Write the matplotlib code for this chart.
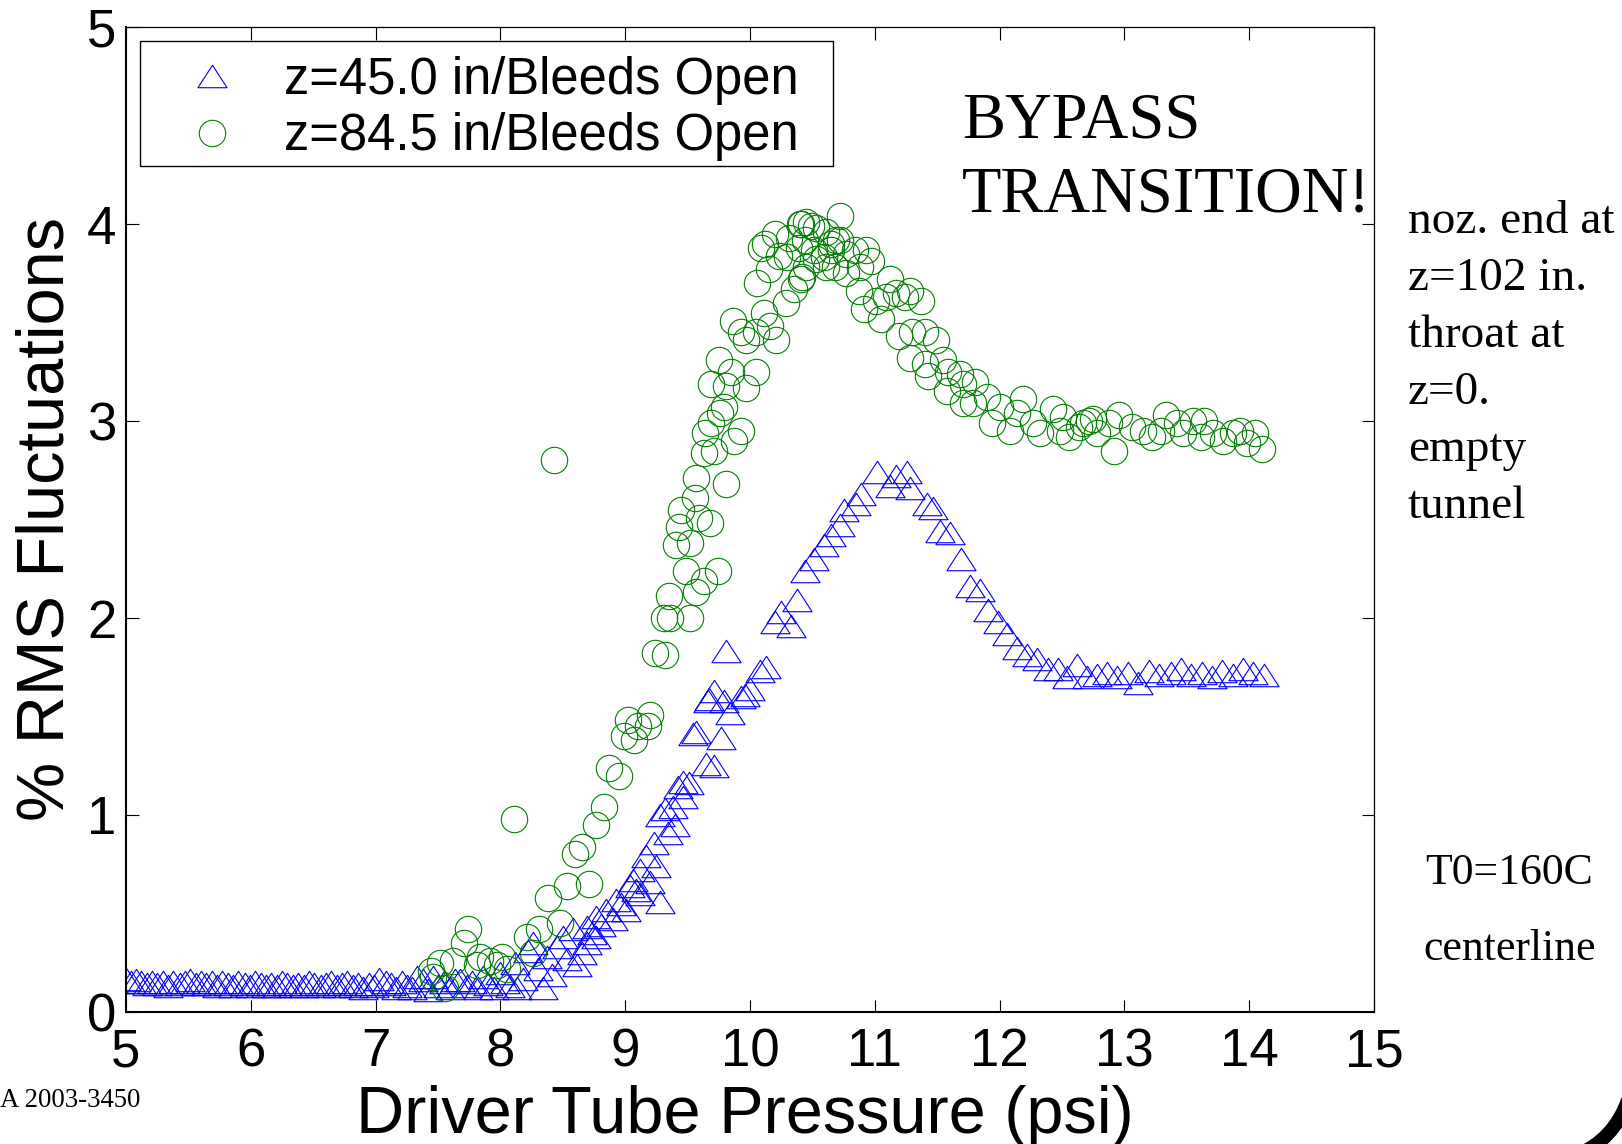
import matplotlib.pyplot as plt
from matplotlib.path import Path
from matplotlib.patches import PathPatch, Rectangle

# z = 45.0 in, bleeds open
blue_x = [5.00, 5.04, 5.08, 5.12, 5.17, 5.21, 5.25, 5.30, 5.34, 5.38, 5.43, 5.47,
          5.51, 5.56, 5.60, 5.64, 5.69, 5.73, 5.77, 5.82, 5.86, 5.90, 5.95, 5.99,
          6.03, 6.08, 6.12, 6.16, 6.21, 6.25, 6.29, 6.34, 6.38, 6.43, 6.47, 6.51,
          6.56, 6.60, 6.64, 6.69, 6.73, 6.77, 6.82, 6.86, 6.90, 6.95, 6.99, 7.03,
          7.08, 7.12, 7.16, 7.21, 7.25, 7.29, 7.33, 7.38, 7.42, 7.46, 7.50, 7.55,
          7.60, 7.64, 7.68, 7.73, 7.77, 7.82, 7.86, 7.90, 7.95, 8.00, 8.04, 8.08,
          8.12, 8.13, 8.18, 8.22, 8.26, 8.30, 8.34, 8.37, 8.41, 8.45, 8.50, 8.53,
          8.58, 8.61, 8.65, 8.69, 8.69, 8.73, 8.77, 8.77, 8.81, 8.85, 8.90, 8.93,
          8.97, 9.01, 9.04, 9.06, 9.09, 9.12, 9.12, 9.17, 9.20, 9.23, 9.25, 9.28,
          9.28, 9.32, 9.34, 9.38, 9.40, 9.42, 9.46, 9.46, 9.51, 9.54, 9.57, 9.65,
          9.66, 9.67, 9.71, 9.71, 9.77, 9.79, 9.81, 9.84, 9.93, 9.96, 10.00, 10.08,
          10.13, 10.20, 10.25, 10.33, 10.38, 10.44, 10.51, 10.59, 10.65, 10.72, 10.75, 10.85,
          10.89, 11.02, 11.12, 11.17, 11.26, 11.28, 11.42, 11.47, 11.52, 11.60, 11.69, 11.76,
          11.84, 11.91, 11.99, 12.06, 12.14, 12.22, 12.30, 12.39, 12.47, 12.54, 12.62, 12.70,
          12.78, 12.86, 12.94, 13.03, 13.11, 13.20, 13.28, 13.37, 13.45, 13.53, 13.62, 13.70,
          13.78, 13.87, 13.95, 14.03, 14.12]
blue_y = [0.17, 0.15, 0.16, 0.15, 0.14, 0.15, 0.14, 0.15, 0.13, 0.15, 0.14, 0.15,
          0.16, 0.14, 0.15, 0.14, 0.15, 0.13, 0.15, 0.14, 0.13, 0.15, 0.14, 0.13,
          0.15, 0.14, 0.13, 0.14, 0.13, 0.15, 0.14, 0.13, 0.14, 0.13, 0.15, 0.14,
          0.13, 0.14, 0.15, 0.13, 0.14, 0.15, 0.13, 0.14, 0.12, 0.14, 0.13, 0.17,
          0.15, 0.14, 0.12, 0.15, 0.13, 0.12, 0.18, 0.16, 0.11, 0.18, 0.13, 0.15,
          0.12, 0.16, 0.16, 0.13, 0.15, 0.12, 0.18, 0.14, 0.12, 0.20, 0.15, 0.13,
          0.25, 0.12, 0.17, 0.31, 0.35, 0.22, 0.12, 0.28, 0.19, 0.33, 0.38, 0.27,
          0.42, 0.24, 0.30, 0.43, 0.35, 0.40, 0.48, 0.38, 0.44, 0.52, 0.47, 0.57,
          0.55, 0.52, 0.64, 0.67, 0.62, 0.72, 0.60, 0.79, 0.66, 0.86, 0.74, 0.56,
          1.00, 1.03, 0.91, 1.04, 0.95, 1.14, 1.17, 1.09, 1.16, 1.41, 1.42, 1.26,
          1.58, 1.59, 1.25, 1.63, 1.39, 1.58, 1.83, 1.52, 1.60, 1.61, 1.64, 1.73,
          1.75, 1.98, 2.03, 1.96, 2.09, 2.24, 2.30, 2.37, 2.42, 2.47, 2.55, 2.58,
          2.63, 2.74, 2.67, 2.72, 2.74, 2.66, 2.58, 2.56, 2.44, 2.43, 2.30, 2.16,
          2.14, 2.04, 1.98, 1.92, 1.85, 1.81, 1.79, 1.74, 1.74, 1.70, 1.76, 1.70,
          1.71, 1.72, 1.70, 1.72, 1.67, 1.73, 1.71, 1.72, 1.74, 1.71, 1.72, 1.70,
          1.73, 1.71, 1.74, 1.72, 1.71]

# z = 84.5 in, bleeds open
green_x = [7.44, 7.46, 7.52, 7.56, 7.62, 7.71, 7.74, 7.81, 7.84, 7.92, 7.97, 8.01,
           8.05, 8.11, 8.21, 8.26, 8.31, 8.38, 8.43, 8.48, 8.53, 8.60, 8.65, 8.71,
           8.77, 8.83, 8.87, 8.95, 8.99, 9.02, 9.07, 9.10, 9.18, 9.20, 9.24, 9.31,
           9.32, 9.35, 9.36, 9.41, 9.43, 9.45, 9.49, 9.52, 9.52, 9.56, 9.57, 9.57,
           9.59, 9.63, 9.63, 9.64, 9.68, 9.69, 9.69, 9.71, 9.74, 9.75, 9.76, 9.79,
           9.81, 9.81, 9.85, 9.86, 9.87, 9.93, 9.93, 9.97, 9.97, 10.05, 10.05, 10.06,
           10.09, 10.11, 10.12, 10.15, 10.16, 10.20, 10.21, 10.23, 10.29, 10.30, 10.31, 10.35,
           10.39, 10.40, 10.41, 10.41, 10.42, 10.44, 10.45, 10.45, 10.49, 10.51, 10.53, 10.53,
           10.59, 10.61, 10.61, 10.65, 10.65, 10.68, 10.69, 10.72, 10.72, 10.77, 10.77, 10.84,
           10.87, 10.88, 10.91, 10.93, 10.97, 11.01, 11.05, 11.09, 11.12, 11.17, 11.19, 11.24,
           11.28, 11.28, 11.30, 11.37, 11.40, 11.40, 11.43, 11.49, 11.55, 11.58, 11.59, 11.68,
           11.71, 11.71, 11.79, 11.80, 11.90, 11.94, 12.00, 12.08, 12.14, 12.19, 12.27, 12.32,
           12.43, 12.48, 12.51, 12.56, 12.64, 12.67, 12.72, 12.75, 12.78, 12.88, 12.92, 12.96,
           13.06, 13.15, 13.22, 13.29, 13.33, 13.42, 13.47, 13.55, 13.61, 13.64, 13.71, 13.79,
           13.87, 13.93, 13.98, 14.05, 14.10]
green_y = [0.21, 0.18, 0.25, 0.12, 0.26, 0.35, 0.42, 0.24, 0.28, 0.26, 0.24, 0.28,
           0.22, 0.98, 0.38, 0.30, 0.42, 0.58, 2.80, 0.45, 0.64, 0.80, 0.84, 0.65,
           0.95, 1.04, 1.24, 1.20, 1.40, 1.48, 1.38, 1.45, 1.45, 1.51, 1.82, 2.00,
           1.81, 2.11, 2.00, 2.37, 2.46, 2.55, 2.24, 2.00, 2.38, 2.61, 2.13, 2.71,
           2.51, 2.19, 2.84, 2.94, 2.48, 2.99, 3.19, 2.85, 2.24, 3.31, 3.04, 3.07,
           2.68, 3.18, 3.25, 3.51, 2.90, 2.95, 3.45, 3.17, 3.41, 3.25, 3.45, 3.70,
           3.88, 3.55, 3.90, 3.77, 3.48, 3.95, 3.41, 3.84, 3.60, 3.83, 3.93, 3.67,
           3.88, 4.00, 3.72, 4.00, 3.73, 3.92, 4.01, 3.78, 3.99, 3.87, 3.98, 3.82,
           3.83, 3.96, 3.78, 3.90, 3.87, 3.78, 3.92, 4.04, 3.92, 3.85, 3.75, 3.87,
           3.66, 3.78, 3.57, 3.87, 3.81, 3.61, 3.52, 3.63, 3.72, 3.65, 3.43, 3.63,
           3.66, 3.32, 3.45, 3.61, 3.45, 3.29, 3.23, 3.41, 3.31, 3.15, 3.25, 3.24,
           3.19, 3.09, 3.09, 3.20, 3.12, 2.99, 3.07, 2.95, 3.04, 3.11, 2.99, 2.94,
           3.06, 2.95, 3.02, 2.92, 2.97, 2.99, 3.00, 3.01, 2.94, 2.99, 2.85, 3.03,
           2.97, 2.95, 2.92, 2.95, 3.03, 2.99, 2.94, 3.00, 2.92, 3.00, 2.94, 2.90,
           2.94, 2.95, 2.89, 2.94, 2.86]

right_notes = ['noz. end at', 'z=102 in.', 'throat at', 'z=0.', 'empty', 'tunnel']

W, H = 1622, 1144
SANS = 'Liberation Sans'
SERIF = 'Liberation Serif'

fig = plt.figure(figsize=(W / 100, H / 100), dpi=100)
ax = fig.add_axes([126 / W, 1 - 1012 / H, 1248 / W, 985 / H])

# MATLAB-style flattened triangle
tri = Path([(-1, -0.77), (1, -0.77), (0, 0.77), (-1, -0.77)], closed=True)

ax.plot(blue_x, blue_y, ls='none', marker=tri, ms=21, mfc='none', mec='#0000ff',
        mew=0.8, label='z=45.0 in/Bleeds Open')
ax.plot(green_x, green_y, ls='none', marker='o', ms=19, mfc='none', mec='#008000',
        mew=0.8, label='z=84.5 in/Bleeds Open')

ax.set_xlim(5, 15)
ax.set_ylim(0, 5)
ax.set_xticks(range(5, 16))
ax.set_yticks(range(0, 6))
ax.tick_params(direction='in', length=9, width=0.8, top=True, right=True,
               labelsize=38)
ax.tick_params(axis='x', pad=11)
ax.tick_params(axis='y', pad=7)
for lab in ax.get_xticklabels() + ax.get_yticklabels():
    lab.set_fontfamily(SANS)
for side in ('left', 'bottom'):
    ax.spines[side].set_linewidth(1.5)
for side in ('top', 'right'):
    ax.spines[side].set_linewidth(0.9)

# legend entries without their own frame; the box is drawn separately
leg = ax.legend(loc='upper left', bbox_to_anchor=(140 / W, 1 - 41 / H),
                bbox_transform=fig.transFigure, borderaxespad=0, numpoints=1,
                prop={'family': SANS, 'size': 36.5}, frameon=False,
                borderpad=0.3, handlelength=2.24, handletextpad=0.31,
                labelspacing=0.14)
fig.add_artist(Rectangle((140 / W, 1 - 166 / H), 693 / W, 125 / H, fill=False,
                         ec='black', lw=1.0, transform=fig.transFigure, zorder=5))

fig.text(745 / W, 1 - 1133 / H, 'Driver Tube Pressure (psi)', family=SANS,
         size=48, ha='center', va='baseline')
fig.text(15 / W, 1 - 519 / H, '% RMS Fluctuations', family=SANS, size=48,
         rotation=90, ha='left', va='center')

fig.text(962 / W, 1 - 137 / H, 'BYPASS', family=SERIF, size=46.5, va='baseline')
fig.text(962 / W, 1 - 212 / H, 'TRANSITION!', family=SERIF, size=46.5, va='baseline')

for i, line in enumerate(right_notes):
    fig.text(1408 / W, 1 - (233 + 57 * i) / H, line, family=SERIF, size=34,
             va='baseline')
fig.text(1425 / W, 1 - 884 / H, 'T0=160C', family=SERIF, size=31.5, va='baseline')
fig.text(1423 / W, 1 - 960 / H, 'centerline', family=SERIF, size=31.5, va='baseline')
fig.text(0, 1 - 1107 / H, 'A 2003-3450', family=SERIF, size=19.3, va='baseline')

# corner of a logo stroke at the bottom right
arc = Path([(1576 / W, -0.01), (1614 / W, 1 - 1140 / H), (1628 / W, 1 - 1100 / H)],
           [Path.MOVETO, Path.CURVE3, Path.CURVE3])
fig.add_artist(PathPatch(arc, fc='none', ec='black', lw=10,
                         transform=fig.transFigure))

fig.savefig('out.png', dpi=100)
